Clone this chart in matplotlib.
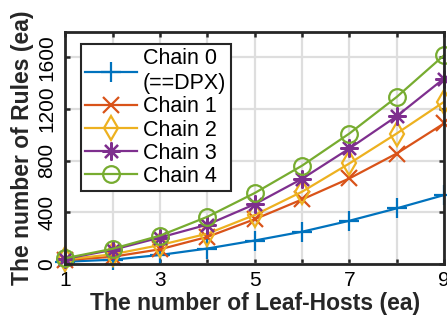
import matplotlib
matplotlib.use("Agg")
import matplotlib.pyplot as plt

plt.rcParams['font.family'] = ['Liberation Sans', 'DejaVu Sans']

# Number of leaf hosts
hosts = [1, 2, 3, 4, 5, 6, 7, 8, 9]
x_ticklabels = ['1', '', '3', '', '5', '', '7', '', '9']
y_ticks = [0, 400, 800, 1200, 1600]

# Number of rules per chain length
chain0 = [18, 33, 70, 120, 182, 250, 335, 431, 534]
chain1 = [30, 56, 114, 210, 347, 500, 663, 856, 1089]
chain2 = [35, 75, 147, 235, 380, 560, 779, 1011, 1256]
chain3 = [40, 110, 205, 305, 463, 660, 895, 1145, 1437]
chain4 = [45, 118, 220, 366, 550, 762, 1011, 1294, 1617]

labels = ['Chain 0\n(==DPX)', 'Chain 1', 'Chain 2', 'Chain 3', 'Chain 4']
colors = ['#0072BD', '#D95319', '#EDB120', '#7E2F8E', '#77AC30']
markers = ['+', 'x', 'd', (8, 2, 0), 'o']
msizes = [14, 11, 12, 13, 12]

fig = plt.figure(figsize=(4.47, 3.21), dpi=100)
ax = fig.add_axes([0.1465, 0.1776, 0.9933 - 0.1465, 0.9013 - 0.1776])

series = [chain0, chain1, chain2, chain3, chain4]
for ys, lab, c, m, ms in zip(series, labels, colors, markers, msizes):
    ax.plot(hosts, ys, color=c, marker=m, markersize=ms, linewidth=1.6,
            markeredgewidth=1.6, markerfacecolor='none', label=lab,
            clip_on=False, zorder=3)

ax.set_xlim(1, 9)
ax.set_ylim(0, 1800)
ax.set_xticks(hosts)
ax.set_xticklabels(x_ticklabels)
ax.set_yticks(y_ticks)
ax.set_yticklabels([str(v) for v in y_ticks], rotation=90, va='center')

ax.grid(True, color='#dedede', linewidth=1.6)
ax.set_axisbelow(True)

axis_color = '#262626'
for sp in ax.spines.values():
    sp.set_linewidth(2.0)
    sp.set_color(axis_color)
    sp.set_zorder(4)
ax.tick_params(direction='in', length=3.5, width=1.8, colors=axis_color,
               labelcolor='black', labelsize=15, top=True, right=True)
ax.tick_params(axis='x', pad=5)
ax.tick_params(axis='y', pad=6.5)

ax.set_xlabel('The number of Leaf-Hosts (ea)', fontsize=16.5, fontweight='bold',
              color='#262626')
ax.set_ylabel('The number of Rules (ea)', fontsize=16.5, fontweight='bold',
              color='#262626')
ax.xaxis.set_label_coords(0.5, -0.12)
ax.yaxis.set_label_coords(-0.083, 0.5)

leg = ax.legend(loc='upper left', bbox_to_anchor=(0.041, 0.947), borderaxespad=0,
                fontsize=15.5, frameon=True, fancybox=False, framealpha=1,
                edgecolor='#262626', handlelength=2.4, handletextpad=0.28,
                labelspacing=0.1, borderpad=0.2)
leg.get_frame().set_linewidth(1.5)
leg.get_texts()[0].set_linespacing(1.25)
leg.set_zorder(5)

fig.savefig('out.png', dpi=100)
